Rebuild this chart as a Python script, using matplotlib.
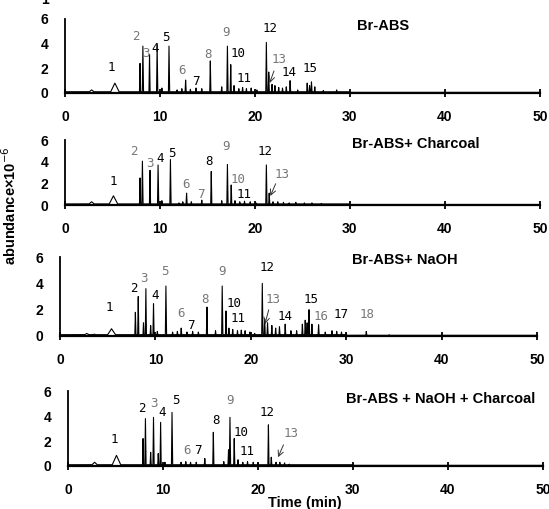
import numpy as np
import matplotlib
matplotlib.use("Agg")
import matplotlib.pyplot as plt

plt.rcParams['font.family'] = ['Liberation Sans', 'DejaVu Sans']

# ---- data (time in min, abundance x1e-6) ----
titles = ["Br-ABS", "Br-ABS+ Charcoal", "Br-ABS+ NaOH", "Br-ABS + NaOH + Charcoal"]

# sharp peaks
p1_t = [7.9, 8.2, 8.9, 9.7, 10.2, 10.95, 11.8, 12.3, 12.7, 13.2, 13.8, 14.4, 15.3, 16.5, 17.1, 17.45,
        17.8, 18.3, 18.7, 19.1, 19.6, 20.2, 21.2, 21.45, 21.8, 22.1, 22.5, 22.9, 23.3, 23.7, 24.5,
        25.5, 25.75, 25.95, 26.3, 27.2, 28.6]
p1_h = [2.4, 3.8, 3.1, 3.9, 0.4, 3.8, 0.25, 0.35, 1.05, 0.3, 0.4, 0.35, 2.6, 0.5, 3.8, 2.3,
        0.6, 0.35, 0.45, 0.35, 0.4, 0.25, 4.1, 1.7, 0.7, 0.6, 0.45, 0.4, 0.5, 1.0, 0.25,
        0.8, 0.6, 0.9, 0.5, 0.2, 0.25]
p2_t = [7.9, 8.15, 8.95, 9.8, 10.2, 11.1, 12.0, 12.4, 12.8, 13.3, 14.4, 15.4, 16.5, 17.1, 17.5,
        17.9, 18.4, 18.9, 19.5, 20.1, 21.2, 21.5, 21.9, 22.4, 23.0, 23.6, 24.3, 25.2, 26.0, 27.0]
p2_h = [2.5, 4.05, 3.2, 3.7, 0.4, 4.2, 0.2, 0.3, 1.1, 0.3, 0.45, 3.1, 0.4, 3.75, 1.85,
        0.4, 0.3, 0.35, 0.3, 0.2, 3.7, 1.1, 0.3, 0.3, 0.25, 0.2, 0.25, 0.2, 0.2, 0.15]
p3_t = [7.9, 8.2, 8.75, 9.0, 9.5, 9.8, 10.2, 11.1, 11.8, 12.3, 12.7, 13.3, 13.9, 14.5, 15.4, 16.3,
        17.0, 17.4, 17.7, 18.1, 18.6, 19.0, 19.4, 19.9, 20.4, 21.2, 21.45, 21.75, 22.2, 22.6, 23.0,
        23.6, 24.2, 24.8, 25.4, 25.7, 25.9, 26.1, 26.4, 27.1, 27.8, 28.5, 29.0, 29.5, 30.0, 32.1, 34.5]
p3_h = [1.8, 3.0, 1.0, 3.6, 0.8, 2.45, 0.35, 3.8, 0.3, 0.35, 0.6, 0.3, 0.35, 0.3, 2.2, 0.4,
        3.8, 1.9, 0.6, 0.5, 0.4, 0.45, 0.4, 0.3, 0.2, 4.0, 1.3, 1.0, 0.8, 0.6, 0.7,
        0.9, 0.4, 0.4, 0.9, 1.2, 1.0, 2.0, 0.9, 0.85, 0.3, 0.4, 0.35, 0.3, 0.2, 0.35, 0.1]
p4_t = [7.9, 8.15, 8.7, 9.0, 9.5, 9.75, 10.2, 10.95, 11.9, 12.4, 12.9, 13.5, 14.4, 15.3, 16.4,
        16.9, 17.05, 17.5, 17.9, 18.4, 18.9, 19.5, 20.0, 21.1, 21.4, 21.9, 22.3, 22.8, 23.3]
p4_h = [2.2, 3.8, 1.1, 3.9, 1.0, 3.5, 0.3, 4.3, 0.3, 0.35, 0.3, 0.3, 0.6, 2.7, 0.35,
        1.3, 3.9, 2.2, 0.5, 0.3, 0.35, 0.3, 0.25, 3.3, 0.7, 0.3, 0.3, 0.25, 0.15]

# broad humps: time, height, half-width
p1_hump_t, p1_hump_h, p1_hump_w = [2.8, 5.25], [0.25, 0.8], [0.4, 0.5]
p2_hump_t, p2_hump_h, p2_hump_w = [2.8, 5.1], [0.3, 0.85], [0.4, 0.5]
p3_hump_t, p3_hump_h, p3_hump_w = [2.8, 3.6, 5.4], [0.2, 0.15, 0.55], [0.4, 0.3, 0.5]
p4_hump_t, p4_hump_h, p4_hump_w = [2.8, 5.1], [0.3, 0.85], [0.4, 0.5]

# peak labels: number, x, y, grey?
p1_labels = [("1", 4.9, 2.1, 0), ("2", 7.5, 4.6, 1), ("3", 8.5, 3.2, 1), ("4", 9.5, 3.6, 0),
             ("5", 10.6, 4.5, 0), ("6", 12.3, 1.8, 1), ("7", 13.8, 0.9, 0), ("8", 15.1, 3.1, 1),
             ("9", 17.0, 4.9, 1), ("10", 18.2, 3.2, 0), ("11", 18.8, 1.2, 0), ("12", 21.6, 5.2, 0),
             ("13", 22.5, 2.7, 1), ("14", 23.6, 1.7, 0), ("15", 25.8, 1.95, 0)]
p2_labels = [("1", 5.1, 2.15, 0), ("2", 7.3, 4.9, 1), ("3", 8.9, 3.8, 1), ("4", 10.0, 4.3, 0),
             ("5", 11.2, 4.8, 0), ("6", 12.7, 1.9, 1), ("7", 14.3, 1.0, 1), ("8", 15.2, 4.0, 0),
             ("9", 16.9, 5.4, 1), ("10", 18.2, 2.4, 1), ("11", 18.8, 1.0, 0), ("12", 21.1, 4.9, 0),
             ("13", 22.8, 2.8, 1)]
p3_labels = [("1", 5.2, 2.2, 0), ("2", 7.75, 3.6, 0), ("3", 8.8, 4.4, 1), ("4", 10.0, 3.1, 0),
             ("5", 11.0, 4.9, 1), ("6", 12.7, 1.7, 1), ("7", 13.7, 0.8, 0), ("8", 15.2, 2.8, 1),
             ("9", 17.0, 4.9, 1), ("10", 18.2, 2.5, 0), ("11", 18.7, 1.3, 0), ("12", 21.7, 5.2, 0),
             ("13", 22.3, 2.8, 1), ("14", 23.6, 1.5, 0), ("15", 26.3, 2.8, 0), ("16", 27.4, 1.5, 1),
             ("17", 29.4, 1.6, 0), ("18", 32.2, 1.6, 1)]
p4_labels = [("1", 4.9, 2.1, 0), ("2", 7.8, 4.6, 0), ("3", 9.05, 5.0, 1), ("4", 9.9, 4.25, 0),
             ("5", 11.4, 5.25, 0), ("6", 12.5, 1.25, 1), ("7", 13.7, 1.25, 0), ("8", 15.6, 3.65, 0),
             ("9", 17.1, 5.25, 1), ("10", 18.2, 2.7, 0), ("11", 18.8, 1.2, 0), ("12", 20.9, 4.3, 0),
             ("13", 23.5, 2.6, 1)]

# arrows for peak 13: (from x, from y, to x, to y)
arrows = [(22.1, 2.0, 21.45, 0.6), (22.3, 2.2, 21.5, 0.6), (21.95, 2.2, 21.4, 0.7), (22.8, 1.9, 22.0, 0.5)]

sharp = [(p1_t, p1_h), (p2_t, p2_h), (p3_t, p3_h), (p4_t, p4_h)]
humps = [(p1_hump_t, p1_hump_h, p1_hump_w), (p2_hump_t, p2_hump_h, p2_hump_w),
         (p3_hump_t, p3_hump_h, p3_hump_w), (p4_hump_t, p4_hump_h, p4_hump_w)]
labels = [p1_labels, p2_labels, p3_labels, p4_labels]

# axes rectangles in figure fraction (left, bottom, width, height)
rects = [(0.1184, 0.8173, 0.865, 0.1454),
         (0.1184, 0.5972, 0.865, 0.1277),
         (0.1093, 0.3399, 0.869, 0.1550),
         (0.1239, 0.0845, 0.865, 0.1470)]
title_pos = [(30.7, 5.4), (30.2, 5.6), (30.6, 5.8), (29.3, 5.4)]

fig = plt.figure(figsize=(5.49, 5.09), dpi=100)
grid = np.linspace(0, 50, 5001)

for i in range(4):
    ax = fig.add_axes(rects[i])
    # build trace from the peaks
    trace = np.where(grid < 30, 0.1, 0.05)
    for t, h in zip(*sharp[i]):
        trace = np.maximum(trace, h * (1 - np.abs(grid - t) / 0.06))
    for t, h, w in zip(*humps[i]):
        trace = np.maximum(trace, h * (1 - np.abs(grid - t) / w))
    trace[grid < 0.3] = 0.1
    ax.plot(grid, trace, color='black', lw=0.8)

    ax.set_xlim(0, 50)
    ax.set_ylim(0, 6)
    ax.spines['top'].set_visible(False)
    ax.spines['right'].set_visible(False)
    ax.spines['bottom'].set_linewidth(1.6)
    ax.spines['left'].set_linewidth(1.3)
    ax.set_xticks([0, 10, 20, 30, 40, 50])
    ax.set_yticks([0, 2, 4, 6])
    ax.tick_params(axis='x', direction='inout', length=6, width=1.3, pad=9, labelsize=10)
    ax.tick_params(axis='y', length=0, pad=12, labelsize=10)
    ax.set_yticks([6], minor=True)
    ax.tick_params(axis='y', which='minor', direction='in', length=5, width=1.3)
    for lab in ax.get_xticklabels() + ax.get_yticklabels():
        lab.set_fontweight('bold')

    for txt, x, y, grey in labels[i]:
        ax.text(x, y, txt, ha='center', va='center', fontsize=9,
                family='DejaVu Sans Mono', color='#777777' if grey else 'black')
    fx, fy, tx, ty = arrows[i]
    ax.annotate('', xy=(tx, ty), xytext=(fx, fy),
                arrowprops=dict(arrowstyle='->', lw=0.7, color='#333333'))

    ax.text(title_pos[i][0], title_pos[i][1], titles[i], ha='left', va='center',
            fontsize=10.5, fontweight='bold', clip_on=False)

fig.text(0.017, 0.595, "abundance\u00d710$^{-6}$", rotation=90, ha='center', va='center',
         fontsize=10.5, fontweight='bold')
fig.text(0.556, 0.012, "Time (min)", ha='center', va='center', fontsize=10.5, fontweight='bold')
fig.text(0.082, 1.0, "1", ha='center', va='center', fontsize=10, fontweight='bold')

fig.savefig("out.png", dpi=100)
